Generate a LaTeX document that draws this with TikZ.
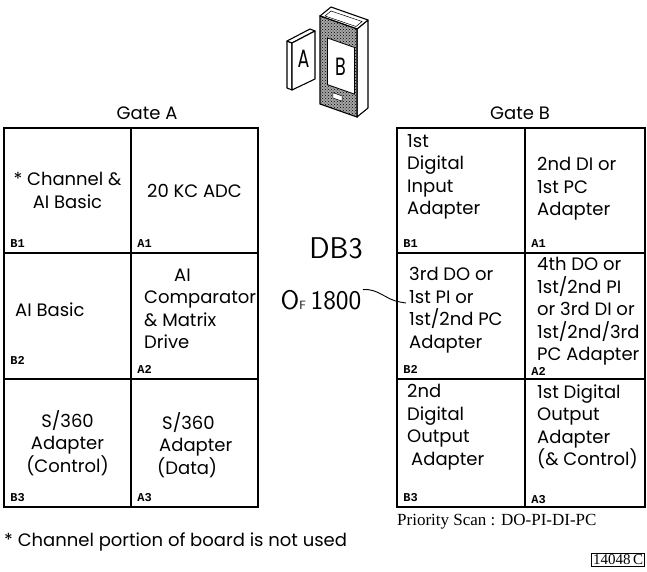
\documentclass[tikz,border=0pt]{standalone}
\usepackage{fontspec}
\setmainfont{Poppins}
\newfontfamily\monofam{Liberation Mono}
\newfontfamily\seriffam{Liberation Serif}
\usetikzlibrary{calc}
\usetikzlibrary{patterns}
\newcommand\cellfont{\fontsize{18}{22.5}\selectfont}
\newcommand\slotfont{\monofam\bfseries\fontsize{12}{12}\selectfont}
\newcommand\scanfont{\seriffam\fontsize{17}{17}\selectfont}
\newcommand\handfont{\sffamily}

\begin{document}
\begin{tikzpicture}[x=1pt,y=-1pt]
  \tikzset{cell/.style={draw=black,line width=1.6pt,inner sep=0pt,align=center,font=\cellfont}}
  \tikzset{txt/.style={anchor=west,inner sep=0pt,align=left,font=\cellfont}}
  \tikzset{slot/.style={anchor=south west,inner sep=0pt,font=\slotfont}}
  \tikzset{box/.style={draw=black,line width=1.1pt,fill=white,line join=round}}
  \tikzset{gatelett/.style={inner sep=0pt,font=\fontsize{25}{25}\selectfont}}
  \useasboundingbox (0,0) rectangle (647,571);

  % gate A swung out of the cabinet
  \draw[box] (292,90) -- (287,88) -- (287,41) -- (292,43) -- cycle;
  \draw[box] (287,41) -- (310,29) -- (315,31) -- (292,43) -- cycle;
  \draw[box] (292,90) -- (315,79) -- (315,31) -- (292,43) -- cycle;
  \node[gatelett] (lettA) at (303.5,59) {\scalebox{0.7}[1]{A}};

  % cabinet with gate B
  \draw[box] (357,117) -- (368,108) -- (368,20) -- (357,29) -- cycle;
  \draw[box] (320,16) -- (357,29) -- (368,20) -- (331,7) -- cycle;
  \draw[line width=0.5pt] (325,16) -- (356,26.5) -- (362,21.5) -- (331,11) -- cycle;
  \begin{scope}[shift={(320,104)},x={(37pt,-13pt)},y={(0pt,88pt)}]
    \fill[black!35] (0,0) -- (1,0) -- (1,1) -- (0,1) -- cycle;
    \fill[pattern=crosshatch dots] (0,0) -- (1,0) -- (1,1) -- (0,1) -- cycle;
    \draw[fill=white,line width=0.8pt] (0.2,0.25) -- (0.93,0.25) -- (0.93,0.78) -- (0.2,0.78) -- cycle;
    \draw[fill=white,line width=0.5pt] (0.35,0.12) -- (0.6,0.12) -- (0.6,0.18) -- (0.35,0.18) -- cycle;
    \draw[line width=1.1pt] (0,0) -- (1,0) -- (1,1) -- (0,1) -- cycle;
  \end{scope}
  \node[gatelett] (lettB) at (340.5,67) {\scalebox{0.7}[1]{B}};

  % gate A
  \node[font=\cellfont] (gateA) at (147,113) {Gate A};
  \node[cell,minimum width=127pt,minimum height=125pt] (A-B1) at (67.5,190.5) {* Channel \&\\AI Basic};
  \node[cell,minimum width=127pt,minimum height=125pt] (A-A1) at (194.5,190.5) {20 KC ADC};
  \node[cell,minimum width=127pt,minimum height=126pt] (A-B2) at (67.5,316) {};
  \node[cell,minimum width=127pt,minimum height=126pt] (A-A2) at (194.5,316) {};
  \node[cell,minimum width=127pt,minimum height=128pt] (A-B3) at (67.5,443) {S/360\\Adapter\\(Control)};
  \node[cell,minimum width=127pt,minimum height=128pt] (A-A3) at (194.5,443) {};
  \node[txt] (A-B2-txt) at (15,310) {AI Basic};
  \node[txt] (A-A2-txt) at (144,309) {\hspace{30pt}AI\\Comparator\\\& Matrix\\Drive};
  \node[txt] (A-A3-txt) at (157,445) {\hspace{5pt}S/360\\\hspace{2pt}Adapter\\(Data)};
  \node[slot] at ($(A-B1.south west)+(7,-6)$) {B1};
  \node[slot] at ($(A-A1.south west)+(7,-6)$) {A1};
  \node[slot] at ($(A-B2.south west)+(7,-15)$) {B2};
  \node[slot] at ($(A-A2.south west)+(7,-6)$) {A2};
  \node[slot] at ($(A-B3.south west)+(7,-6)$) {B3};
  \node[slot] at ($(A-A3.south west)+(7,-6)$) {A3};

  % gate B
  \node[font=\cellfont] (gateB) at (520,113) {Gate B};
  \node[cell,minimum width=128pt,minimum height=125pt] (B-B1) at (461,190.5) {};
  \node[cell,minimum width=120pt,minimum height=125pt] (B-A1) at (585,190.5) {};
  \node[cell,minimum width=128pt,minimum height=126pt] (B-B2) at (461,316) {};
  \node[cell,minimum width=120pt,minimum height=126pt] (B-A2) at (585,316) {};
  \node[cell,minimum width=128pt,minimum height=128pt] (B-B3) at (461,443) {};
  \node[cell,minimum width=120pt,minimum height=128pt] (B-A3) at (585,443) {};
  \node[txt] (B-B1-txt) at (407,177) {1st\\Digital\\Input\\Adapter};
  \node[txt] (B-A1-txt) at (537,189) {2nd DI or\\1st PC\\Adapter};
  \node[txt] (B-B2-txt) at (409,310) {3rd DO or\\1st PI or\\1st/2nd PC\\Adapter};
  \node[txt] (B-A2-txt) at (537,311.5) {4th DO or\\1st/2nd PI\\or 3rd DI or\\1st/2nd/3rd\\PC Adapter};
  \node[txt] (B-B3-txt) at (407,427) {2nd\\Digital\\Output\\\hspace{4pt}Adapter};
  \node[txt] (B-A3-txt) at (537,427) {1st Digital\\Output\\Adapter\\(\& Control)};
  \node[slot] at ($(B-B1.south west)+(7,-6)$) {B1};
  \node[slot] at ($(B-A1.south west)+(7,-6)$) {A1};
  \node[slot] at ($(B-B2.south west)+(7,-6)$) {B2};
  \node[slot] at ($(B-A2.south west)+(7,-4)$) {A2};
  \node[slot] at ($(B-B3.south west)+(7,-6)$) {B3};
  \node[slot] at ($(B-A3.south west)+(7,-4)$) {A3};

  % pencil note
  \node[font=\handfont\fontsize{30}{30}\selectfont] (db) at (336,248) {DB3};
  \node[font=\handfont\fontsize{27}{27}\selectfont] (of) at (321,300) {O{\fontsize{12}{12}\selectfont F}\,1800};
  \coordinate (pin) at (400,302);
  \draw[line width=0.9pt] ($(of.north east)+(-2,3)$) .. controls (378,288) and (386,300) .. (pin) -- ++(6,1);

  % notes below
  \node[txt] (foot) at (4,542) {* Channel portion of board is not used};
  \node[anchor=west,inner sep=0pt,font=\scanfont] (scan) at (397,522) {Priority Scan : DO-PI-DI-PC};
  \node[draw=black,line width=0.8pt,anchor=south east,inner sep=1.5pt,font=\seriffam\fontsize{15}{15}\selectfont] (fignum) at (645,567) {14048\,C};
\end{tikzpicture}
\end{document}
